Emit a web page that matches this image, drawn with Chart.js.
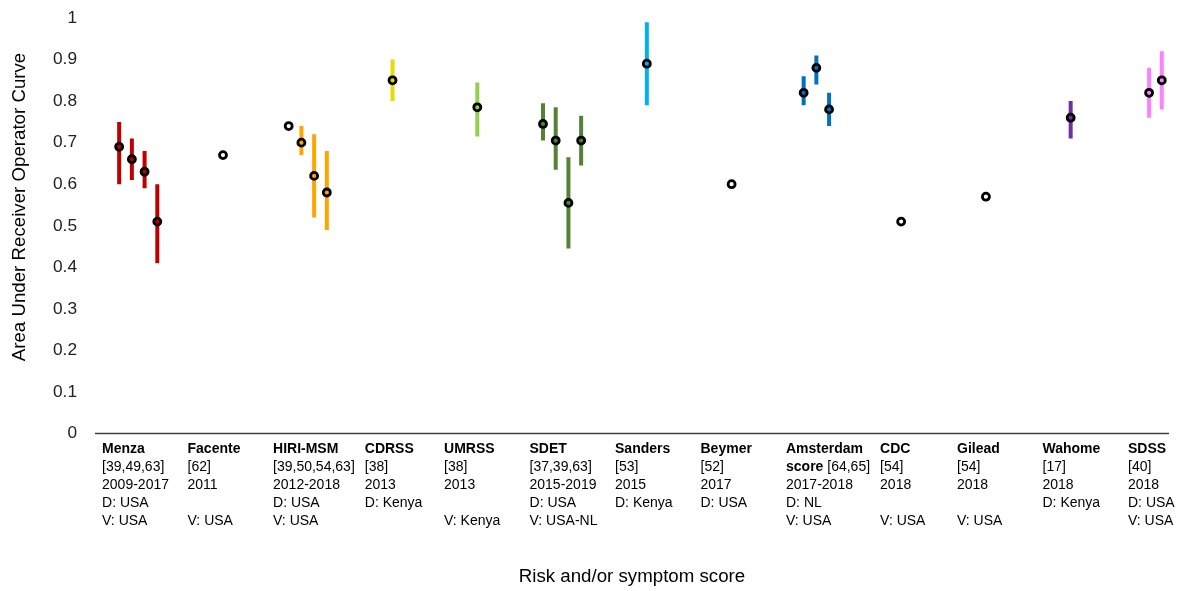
<!DOCTYPE html>
<html>
<head>
<meta charset="utf-8">
<script src="https://cdn.jsdelivr.net/npm/chart.js@4.4.1/dist/chart.umd.min.js"></script>
<style>
body { margin: 0; background: #fff; }
#wrap { width: 1183px; height: 591px; position: relative; }
</style>
</head>
<body>
<div id="wrap"><canvas id="auc"></canvas></div>
<script>
// one text column per risk score
var scores    = ['Menza', 'Facente', 'HIRI-MSM', 'CDRSS', 'UMRSS', 'SDET', 'Sanders', 'Beymer', 'Amsterdam\nscore', 'CDC', 'Gilead', 'Wahome', 'SDSS'];
var refs      = ['[39,49,63]', '[62]', '[39,50,54,63]', '[38]', '[38]', '[37,39,63]', '[53]', '[52]', '[64,65]', '[54]', '[54]', '[17]', '[40]'];
var years     = ['2009-2017', '2011', '2012-2018', '2013', '2013', '2015-2019', '2015', '2017', '2017-2018', '2018', '2018', '2018', '2018'];
var derived   = ['D: USA', '', 'D: USA', 'D: Kenya', '', 'D: USA', 'D: Kenya', 'D: USA', 'D: NL', '', '', 'D: Kenya', 'D: USA'];
var validated = ['V: USA', 'V: USA', 'V: USA', '', 'V: Kenya', 'V: USA-NL', '', '', 'V: USA', 'V: USA', 'V: USA', '', 'V: USA'];

// AUC estimates: score index, AUC, 95% CI (null = no CI reported)
var estScore = [0, 0, 0, 0, 1, 2, 2, 2, 2, 3, 4, 5, 5, 5, 5, 6, 7, 8, 8, 8, 9, 10, 11, 12, 12];
var aucVal   = [0.69, 0.66, 0.63, 0.51, 0.67, 0.74, 0.70, 0.62, 0.58, 0.85, 0.785, 0.745, 0.705, 0.555, 0.705, 0.89, 0.60, 0.82, 0.88, 0.78, 0.51, 0.57, 0.76, 0.82, 0.85];
var ciLow    = [0.60, 0.61, 0.59, 0.41, null, null, 0.67, 0.52, 0.49, 0.80, 0.715, 0.705, 0.635, 0.445, 0.645, 0.79, null, 0.79, 0.84, 0.74, null, null, 0.71, 0.76, 0.78];
var ciHigh   = [0.75, 0.71, 0.68, 0.60, null, null, 0.74, 0.72, 0.68, 0.90, 0.845, 0.795, 0.785, 0.665, 0.765, 0.99, null, 0.86, 0.91, 0.82, null, null, 0.80, 0.88, 0.92];

var scoreColors = ['#c00000', '#000000', '#ffa500', '#e5dc00', '#92d050', '#548235', '#00b0f0', '#000000', '#0070c0', '#000000', '#000000', '#7030a0', '#ff80ff'];

var FONT = '"Liberation Sans", Arial, sans-serif';

// spread estimates of the same score around the score's slot
var xPos = [];
for (var k = 0; k < estScore.length; k++) {
    var s = estScore[k], n = 0, j = 0;
    for (var m = 0; m < estScore.length; m++) {
        if (estScore[m] == s) {
            if (m < k) j++;
            n++;
        }
    }
    xPos.push(s + (j - (n - 1) / 2) * 0.15);
}

var datasets = [{
    label: 'AUC',
    data: xPos.map(function(x, k) { return { x: x, y: aucVal[k] }; }),
    pointRadius: 3.5,
    pointBorderWidth: 2.8,
    pointBorderColor: '#000',
    pointBackgroundColor: estScore.map(function(s, k) { return ciLow[k] == null ? '#fff' : scoreColors[s]; }),
    showLine: false
}];
for (var k = 0; k < estScore.length; k++) {
    if (ciLow[k] == null) continue;
    datasets.push({
        label: 'CI',
        data: [{ x: xPos[k], y: ciLow[k] }, { x: xPos[k], y: ciHigh[k] }],
        borderColor: scoreColors[estScore[k]],
        borderWidth: 4,
        borderCapStyle: 'butt',
        pointRadius: 0,
        showLine: true
    });
}

function columnLines(i) {
    var nameLines = scores[i].split('\n');
    var rows = nameLines.map(function(t) { return [{ t: t, b: true }]; });
    if (nameLines.length > 1) {
        rows[rows.length - 1].push({ t: ' ' + refs[i], b: false });
    } else {
        rows.push([{ t: refs[i], b: false }]);
    }
    [years[i], derived[i], validated[i]].forEach(function(t) { rows.push([{ t: t, b: false }]); });
    return rows;
}

var textPlugin = {
    id: 'textPlugin',
    beforeDatasetsDraw: function(chart) {
        var ctx = chart.ctx, a = chart.chartArea;
        var y0 = chart.scales.y.getPixelForValue(0);
        ctx.save();
        ctx.strokeStyle = '#404040';
        ctx.lineWidth = 1.5;
        ctx.beginPath();
        ctx.moveTo(a.left, y0);
        ctx.lineTo(a.right, y0);
        ctx.stroke();
        ctx.restore();
    },
    afterDraw: function(chart) {
        var ctx = chart.ctx, a = chart.chartArea, xs = chart.scales.x;
        var y0 = chart.scales.y.getPixelForValue(0);
        var bold = 'bold 14px ' + FONT, normal = '14px ' + FONT;
        ctx.save();
        ctx.fillStyle = '#000';
        ctx.textBaseline = 'middle';
        ctx.textAlign = 'left';
        var nextFree = 0;
        for (var i = 0; i < scores.length; i++) {
            // text columns sit a little left of their score's points, never overlapping
            var left = Math.max(xs.getPixelForValue(i * 1.0086 - 0.427), nextFree);
            var y = y0 + 15.5, widest = 0;
            columnLines(i).forEach(function(row) {
                var x = left;
                row.forEach(function(seg) {
                    ctx.font = seg.b ? bold : normal;
                    ctx.fillText(seg.t, x, y);
                    x += ctx.measureText(seg.t).width;
                });
                widest = Math.max(widest, x - left);
                y += 18;
            });
            nextFree = left + widest + 10;
        }
        // axis titles
        ctx.font = '18.7px ' + FONT;
        ctx.fillStyle = '#000';
        ctx.textAlign = 'center';
        ctx.fillText('Risk and/or symptom score', (a.left + a.right) / 2, 577);
        ctx.translate(20, 207);
        ctx.rotate(-Math.PI / 2);
        ctx.fillText('Area Under Receiver Operator Curve', 0, 0);
        ctx.restore();
    }
};

new Chart(document.getElementById('auc').getContext('2d'), {
    type: 'scatter',
    data: { datasets: datasets },
    options: {
        responsive: true,
        maintainAspectRatio: false,
        animation: false,
        layout: { padding: { top: 18, right: 14, bottom: 157.5, left: 0 } },
        plugins: { legend: { display: false }, tooltip: { enabled: false } },
        scales: {
            x: { type: 'linear', display: false, min: -0.51, max: 12.16 },
            y: {
                min: 0, max: 1,
                afterFit: function(scale) {
                    scale.width = 95;
                    scale.paddingTop = 0;
                    scale.paddingBottom = 0;
                },
                grid: { display: false, drawTicks: false },
                border: { display: false },
                ticks: {
                    stepSize: 0.1, padding: 18, color: '#222',
                    font: { family: FONT, size: 17.3 },
                    callback: function(v) { return String(Math.round(v * 10) / 10); }
                }
            }
        }
    },
    plugins: [textPlugin]
});
</script>
</body>
</html>
